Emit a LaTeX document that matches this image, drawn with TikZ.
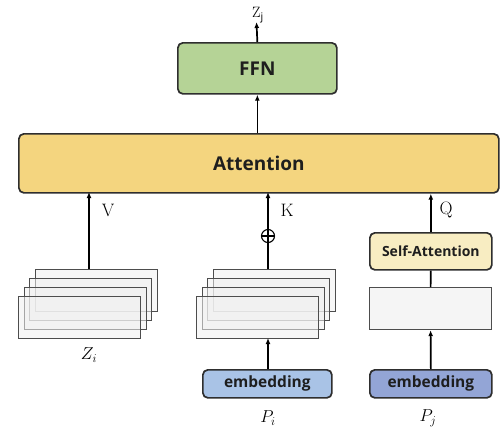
\documentclass[tikz,border=0pt]{standalone}
\usepackage{fontspec}
\setsansfont{Open Sans}
\usetikzlibrary{arrows.meta}
\definecolor{attnfill}{HTML}{F4D57F}
\definecolor{ffnfill}{HTML}{B5D396}
\definecolor{selffill}{HTML}{F8EDC2}
\definecolor{embA}{HTML}{A9C3E6}
\definecolor{embB}{HTML}{93A5D6}
\definecolor{edge}{HTML}{2E2E2E}
\definecolor{ink}{HTML}{1E1E1E}
\tikzset{
  box/.style={draw=edge, line width=1.7pt, rounded corners=5pt, inner sep=0pt, anchor=north west, text=ink},
  sheet/.style={draw=edge!85, line width=1.2pt, fill=black!6, fill opacity=0.55, inner sep=0pt, anchor=north west, minimum width=122pt, minimum height=42pt},
  arr/.style={-{Latex[length=6pt,width=5pt]}, line width=1.7pt, black},
  ln/.style={line width=1.7pt, black},
  lbl/.style={font=\fontsize{18}{18}\selectfont\rmfamily},
  mlbl/.style={font=\fontsize{17}{17}\selectfont},
  embtext/.style={font=\sffamily\bfseries\fontsize{15.5}{15.5}\selectfont},
}
\begin{document}
\begin{tikzpicture}[x=1pt,y=-1pt]
\useasboundingbox (0,0) rectangle (500,434);

% top blocks
\node[box, fill=attnfill, minimum width=480pt, minimum height=59pt,
  font=\sffamily\bfseries\fontsize{19}{19}\selectfont] (attn) at (18,133) {Attention};
\node[box, fill=ffnfill, minimum width=159pt, minimum height=51pt,
  font=\sffamily\bfseries\fontsize{19}{19}\selectfont] (ffn) at (177,42) {FFN};
\coordinate (out) at (256.5,22);
\node[font=\fontsize{15}{15}\selectfont, anchor=base] (zj) at (258,17.5) {Z$_{\mathsf{j}}$};
\draw[arr] (ffn.north) -- (out);
\draw[arr] (attn.north -| ffn.south) -- (ffn.south);

% value column
\foreach \k/\dx/\dy in {3/17/-27, 2/11/-18, 1/5.5/-9, 0/0/0}
  \node[sheet] (zs\k) at (18+\dx,296+\dy) {};
\node[mlbl] (zi) at (89,355) {$Z_i$};
\coordinate (vtop) at (89,192);
\draw[arr] (89,269) -- (vtop);
\node[lbl] (v) at (108,210) {V};

% key column
\foreach \k/\dx/\dy in {3/17/-27, 2/11/-18, 1/5.5/-9, 0/0/0}
  \node[sheet] (ps\k) at (196+\dx,296+\dy) {};
\node[box, fill=embA, minimum width=129pt, minimum height=28pt, embtext] (embi) at (202,369) {embedding};
\node[mlbl] (pi) at (268,418) {$P_i$};
\node[circle, draw=black, line width=1.1pt, fill=white, inner sep=0pt, minimum size=13pt] (plus) at (268,236) {};
\draw[line width=1.1pt] (plus.north) -- (plus.south) (plus.west) -- (plus.east);
\draw[ln] (268,269) -- (plus.south);
\draw[arr] (plus.north) -- (268,192);
\draw[arr] (embi.north -| plus) -- (268,338);
\node[lbl] (k) at (287,210) {K};

% query column
\node[box, fill=selffill, minimum width=122pt, minimum height=37pt,
  font=\sffamily\bfseries\fontsize{14}{14}\selectfont] (self) at (369,232) {Self-Attention};
\node[draw=edge!85, line width=1.2pt, fill=black!4, inner sep=0pt, anchor=north west,
  minimum width=122pt, minimum height=42pt] (qs) at (369,287) {};
\node[box, fill=embB, minimum width=122pt, minimum height=28pt, embtext] (embj) at (369,369) {embedding};
\node[mlbl] (pj) at (428,418) {$P_j$};
\draw[arr] (self.north) -- (self.north |- attn.south);
\draw[ln] (qs.north) -- (self.south);
\draw[arr] (embj.north) -- (qs.south);
\node[lbl] (q) at (446,210) {Q};
\end{tikzpicture}
\end{document}
